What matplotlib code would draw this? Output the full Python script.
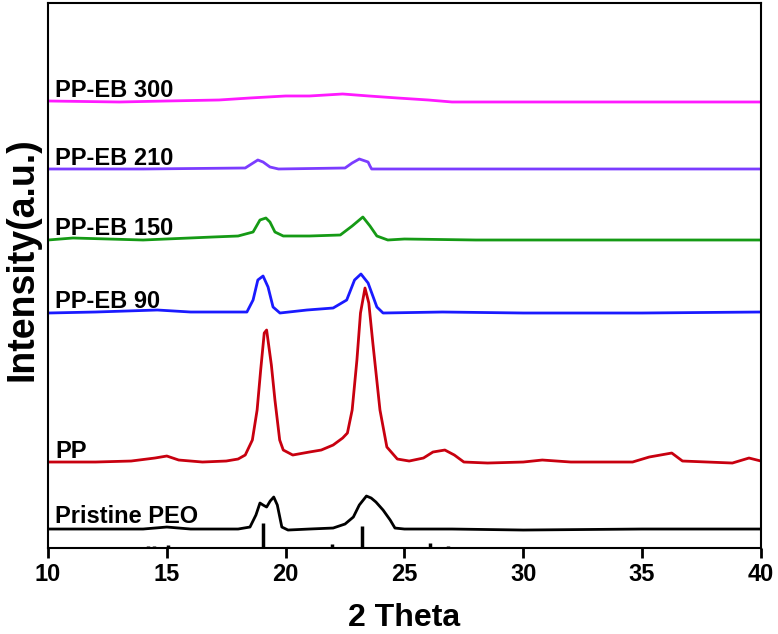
import matplotlib
matplotlib.use('Agg')
import matplotlib.pyplot as plt

plt.rcParams['font.family'] = ['Liberation Sans', 'DejaVu Sans']
plt.rcParams['font.weight'] = 'bold'

# Kõik intensiivsused on suvalistes ühikutes, kõverad juba nihutatud
peo_theta = [10, 11, 12, 13, 14, 15, 16, 17, 18, 18.5, 18.75, 18.92, 19.05, 19.2, 19.35, 19.5, 19.65, 19.84,
             20.1, 21, 22, 22.5, 22.85, 23.1, 23.4, 23.6, 23.8, 24.1, 24.4, 24.6, 25, 27, 30, 35, 40]
peo_int = [19, 19, 19, 19, 19, 21, 19, 19, 19, 21, 33, 45, 43, 41, 47, 51, 43, 21,
           18, 19, 20, 24, 31, 43, 52, 50, 46, 38, 28, 20, 19, 19, 18, 19, 19]

pp_theta = [10, 12, 13.5, 14.5, 15.0, 15.5, 16.5, 17.5, 18.0, 18.3, 18.6, 18.8, 18.95, 19.1, 19.2, 19.4, 19.55,
            19.75, 19.9, 20.3, 21.0, 21.5, 22.0, 22.4, 22.6, 22.8, 23.0, 23.15, 23.34, 23.5, 23.67, 23.97, 24.26,
            24.7, 25.2, 25.8, 26.2, 26.7, 27.1, 27.5, 28.5, 30.0, 30.8, 32, 34.6, 35.3, 36.25, 36.7, 38.8, 39.5, 40]
pp_int = [86, 86, 87, 90, 92, 88, 86, 87, 89, 93, 108, 138, 178, 215, 218, 183, 148,
          108, 98, 93, 96, 98, 103, 110, 115, 138, 188, 235, 260, 245, 205, 138, 101,
          89, 87, 90, 96, 98, 93, 86, 85, 86, 88, 86, 86, 91, 95, 87, 85, 90, 87]

eb90_theta = [10, 12, 14.6, 16, 18, 18.37, 18.63, 18.83, 19.05, 19.26, 19.47, 19.76, 20.9, 22.0, 22.57,
              22.9, 23.17, 23.47, 23.84, 24.1, 26.6, 30, 35, 40]
eb90_int = [235, 236, 238, 236, 236, 236, 248, 268, 272, 261, 241, 235, 238, 240, 248,
            268, 274, 265, 241, 235, 236, 235, 235, 236]

eb150_theta = [10, 11.05, 14, 16.94, 18.0, 18.63, 18.92, 19.17, 19.34, 19.55, 19.9, 21, 22.3, 22.8,
               23.25, 23.55, 23.84, 24.3, 25, 28, 40]
eb150_int = [308, 310, 308, 311, 312, 316, 328, 330, 326, 316, 312, 312, 313, 322,
             331, 322, 312, 308, 309, 308, 308]

eb210_theta = [10, 14, 18.3, 18.63, 18.83, 19.05, 19.34, 19.7, 22.5, 22.8, 23.1, 23.47, 23.55, 23.62, 40]
eb210_int = [379, 379, 380, 385, 388, 386, 381, 379, 380, 385, 389, 386, 382, 379, 379]

eb300_theta = [10, 13, 15, 17.2, 18.5, 20.0, 21, 22.4, 23.5, 24.7, 26, 27, 30, 35, 40]
eb300_int = [447, 446, 447, 448, 450, 452, 452, 454, 452, 450, 448, 446, 446, 446, 446]

# PEO standardjooned (JCPDS)
ref_theta = [14.2, 14.45, 15.05, 19.05, 21.95, 23.2, 26.07, 26.83]
ref_int = [2, 2, 3, 25, 4, 22, 5, 2]

names = ['Pristine PEO', 'PP', 'PP-EB 90', 'PP-EB 150', 'PP-EB 210', 'PP-EB 300']
label_y = [25, 90, 240, 313, 383, 451]
colors = ['black', '#c8000f', '#1a1aff', '#159a15', '#7b3cff', '#ff1aff']
curves = [(peo_theta, peo_int), (pp_theta, pp_int), (eb90_theta, eb90_int),
          (eb150_theta, eb150_int), (eb210_theta, eb210_int), (eb300_theta, eb300_int)]

fig = plt.figure(figsize=(7.78, 6.34), dpi=100)
ax = fig.add_axes([0.0617, 0.1356, 0.9163, 0.8597])

for (t, i), c, name, ly in zip(curves, colors, names, label_y):
    ax.plot(t, i, color=c, lw=2.0)
    ax.text(10.3, ly, name, fontsize=17, fontweight='bold', va='baseline', ha='left')

ax.vlines(ref_theta, 0, ref_int, color='black', lw=2.5)

ax.set_xlim(10, 40)
ax.set_ylim(0, 545)
ax.set_xticks([10, 15, 20, 25, 30, 35, 40])
ax.set_yticks([])
ax.tick_params(axis='x', direction='out', length=7, width=2, labelsize=17, pad=4)
for lab in ax.get_xticklabels():
    lab.set_fontweight('bold')
for s in ax.spines.values():
    s.set_linewidth(1.5)

ax.set_xlabel('2 Theta', fontsize=23, fontweight='bold')
ax.xaxis.set_label_coords(0.5, -0.1)
ax.set_ylabel('Intensity(a.u.)', fontsize=27, fontweight='bold')
ax.yaxis.set_label_coords(-0.01, 0.53)

fig.savefig('out.png', dpi=100)
